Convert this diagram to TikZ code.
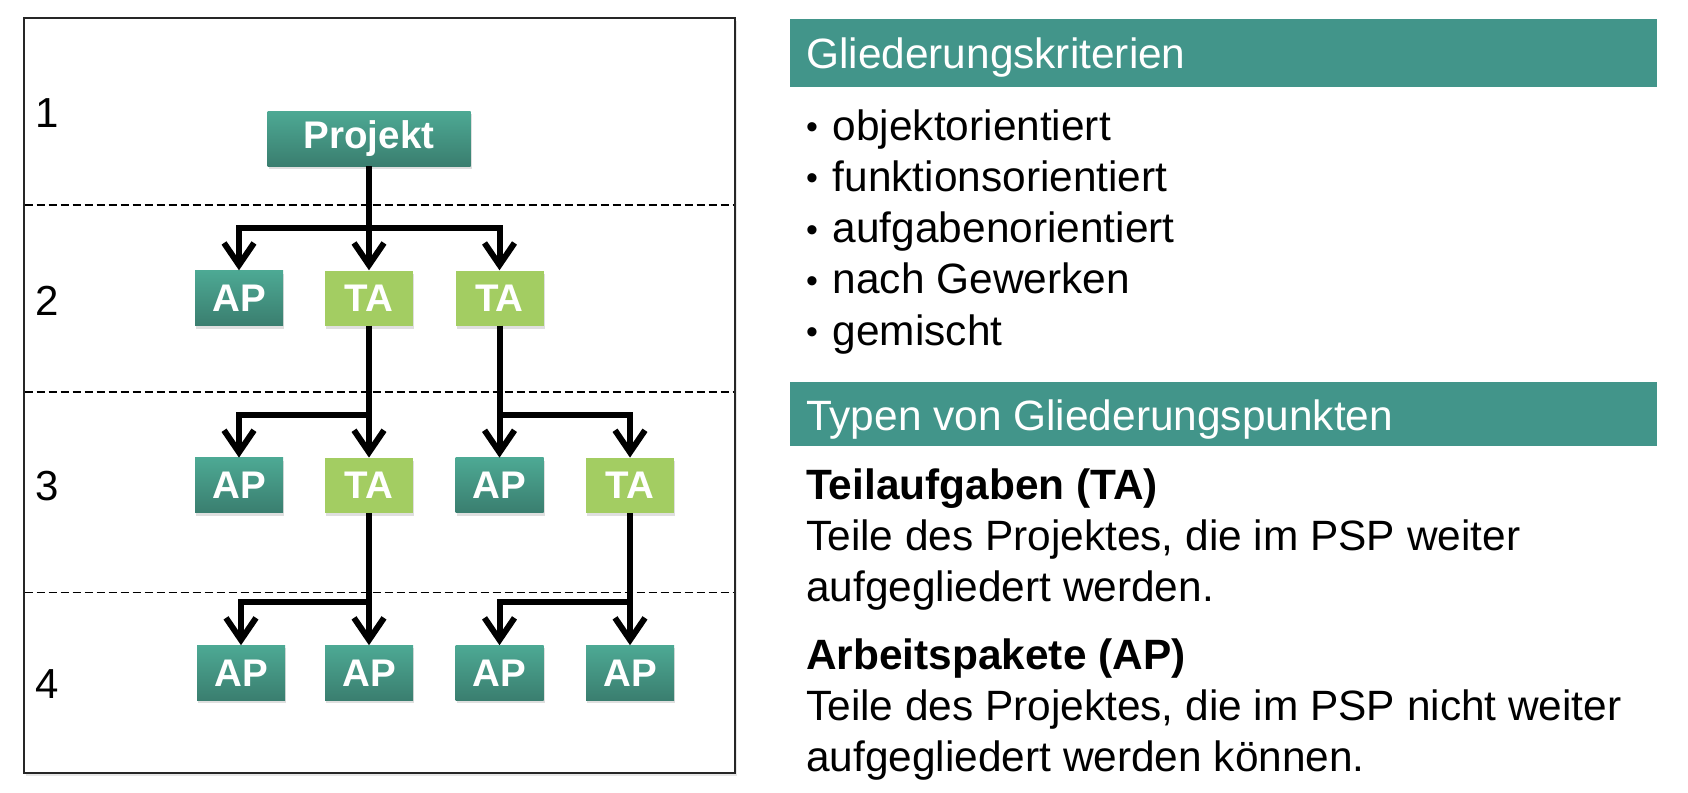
\documentclass[tikz,border=0pt]{standalone}
\usepackage{fontspec}
\setmainfont{Liberation Sans}
\usetikzlibrary{arrows.meta,shadows}
\definecolor{apTop}{HTML}{4DA994}
\definecolor{apBot}{HTML}{3A7E6F}
\definecolor{taFill}{HTML}{A3CD62}
\definecolor{headFill}{HTML}{42958A}
\newcommand{\mybul}{\makebox[26.6pt][l]{\raisebox{1.5pt}{\scalebox{0.8}{•}}}}
\begin{document}
\begin{tikzpicture}[x=1pt,y=-1pt,
  box/.style={minimum width=88pt,minimum height=55pt,inner sep=0pt,text=white,
    font=\fontsize{38.5}{40}\selectfont\bfseries,
    drop shadow={opacity=0.25,shadow xshift=1pt,shadow yshift=-3pt}},
  apbox/.style={box,top color=apTop,bottom color=apBot},
  tabox/.style={box,fill=taFill},
  conn/.style={line width=6pt,-{Straight Barb[length=22pt,width=30pt]}},
  sepline/.style={line width=1.3pt,dash pattern=on 8pt off 4pt},
  lvl/.style={anchor=base west,inner sep=0pt,font=\fontsize{42}{50}\selectfont},
  txt/.style={anchor=base west,inner sep=0pt,font=\fontsize{42.4}{50}\selectfont},
  btxt/.style={txt,font=\fontsize{42.4}{50}\selectfont\bfseries},
  htxt/.style={txt,text=white},
  head/.style={fill=headFill},
]
\useasboundingbox (0,0) rectangle (1688,792);

% frame
\path[draw=black!85,line width=2pt,fill=white,
  drop shadow={opacity=0.2,shadow xshift=2pt,shadow yshift=-3pt}]
  (23.7,18.3) rectangle (735,772.7);

% level separators
\draw[sepline] (24.7,205) -- (734,205);
\draw[sepline] (24.7,392) -- (734,392);
\draw[sepline] (24.7,592.3) -- (734,592.3);

% level numbers
\node[lvl] (n1) at (35,127.7) {1};
\node[lvl] (n2) at (35,315) {2};
\node[lvl] (n3) at (35,500) {3};
\node[lvl] (n4) at (35,698) {4};

% nodes
\node[apbox,minimum width=203pt] (p) at (369,138.5) {Projekt};
\node[apbox] (a21) at (239,298) {AP};
\node[tabox] (t22) at (369,298) {TA};
\node[tabox] (t23) at (499.5,298) {TA};

\node[apbox] (a31) at (239,485.3) {AP};
\node[tabox] (t32) at (369,485.3) {TA};
\node[apbox] (a33) at (499.5,485.3) {AP};
\node[tabox] (t34) at (630,485.3) {TA};

\node[apbox] (a41) at (241,672.9) {AP};
\node[apbox] (a42) at (369,672.9) {AP};
\node[apbox] (a43) at (499.5,672.9) {AP};
\node[apbox] (a44) at (630,672.9) {AP};

% connectors
\coordinate (b2) at (369,228.3);
\draw[conn] (p.south) -- (t22.north);
\draw[conn] (b2) -| (a21.north);
\draw[conn] (b2) -| (t23.north);

\coordinate (b3l) at (369,415);
\coordinate (b3r) at (499.5,415);
\draw[conn] (t22.south) -- (t32.north);
\draw[conn] (b3l) -| (a31.north);
\draw[conn] (t23.south) -- (a33.north);
\draw[conn] (b3r) -| (t34.north);

\coordinate (b4l) at (369,601.7);
\coordinate (b4r) at (630,601.7);
\draw[conn] (t32.south) -- (a42.north);
\draw[conn] (b4l) -| (a41.north);
\draw[conn] (t34.south) -- (a44.north);
\draw[conn] (b4r) -| (a43.north);

% right side
\fill[head] (790,19.3) rectangle (1657,86.7);
\node[htxt] (h1) at (806,68.3) {Gliederungskriterien};
\node[txt] (l1) at (806,140) {\mybul objektorientiert};
\node[txt] (l2) at (806,191.2) {\mybul funktionsorientiert};
\node[txt] (l3) at (806,242.6) {\mybul aufgabenorientiert};
\node[txt] (l4) at (806,293.8) {\mybul nach Gewerken};
\node[txt] (l5) at (806,345) {\mybul gemischt};

\fill[head] (790,382.3) rectangle (1657,446);
\node[htxt] (h2) at (806,430.7) {Typen von Gliederungspunkten};
\node[btxt] (ta) at (806,499) {Teilaufgaben (TA)};
\node[txt] (ta1) at (806,550.7) {Teile des Projektes, die im PSP weiter};
\node[txt] (ta2) at (806,601.7) {aufgegliedert werden.};
\node[btxt] (ap) at (806,669.3) {Arbeitspakete (AP)};
\node[txt] (ap1) at (806,720.7) {Teile des Projektes, die im PSP nicht weiter};
\node[txt] (ap2) at (806,771.7) {aufgegliedert werden können.};
\end{tikzpicture}
\end{document}
